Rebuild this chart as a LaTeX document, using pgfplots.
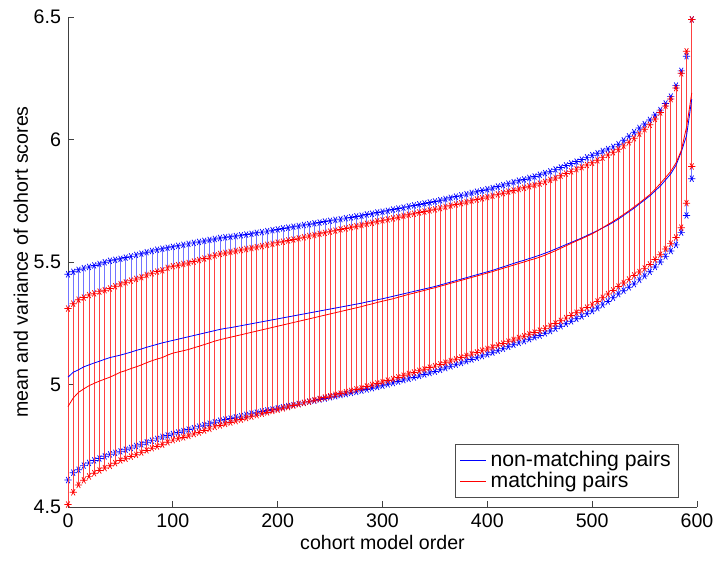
\documentclass[border=0pt]{standalone}
\usepackage{fontspec}
\setmainfont{Liberation Sans}
\usepackage{pgfplots}
\usepackage{pgfplotstable}
\pgfplotsset{compat=1.18}

% x  mean  err   (non-matching pairs)
\pgfplotstableread{
x m e
0 5.030 0.420
5 5.050 0.410
10 5.060 0.408
15 5.072 0.403
20 5.080 0.400
25 5.088 0.398
30 5.095 0.397
35 5.103 0.396
40 5.110 0.395
45 5.115 0.394
50 5.120 0.393
55 5.126 0.392
60 5.132 0.391
65 5.139 0.390
70 5.145 0.389
75 5.152 0.388
80 5.158 0.387
85 5.164 0.386
90 5.170 0.384
95 5.175 0.383
100 5.180 0.382
105 5.185 0.381
110 5.190 0.380
115 5.195 0.379
120 5.200 0.378
125 5.205 0.377
130 5.210 0.376
135 5.215 0.375
140 5.220 0.374
145 5.225 0.373
150 5.229 0.372
155 5.232 0.371
160 5.236 0.370
165 5.240 0.369
170 5.244 0.368
175 5.248 0.367
180 5.252 0.367
185 5.256 0.366
190 5.260 0.366
195 5.264 0.366
200 5.268 0.365
205 5.272 0.365
210 5.276 0.364
215 5.280 0.364
220 5.284 0.363
225 5.288 0.363
230 5.292 0.362
235 5.296 0.362
240 5.300 0.361
245 5.304 0.361
250 5.308 0.360
255 5.312 0.360
260 5.316 0.359
265 5.320 0.359
270 5.324 0.358
275 5.328 0.358
280 5.332 0.357
285 5.337 0.357
290 5.341 0.356
295 5.346 0.356
300 5.350 0.355
305 5.355 0.354
310 5.360 0.354
315 5.365 0.353
320 5.370 0.352
325 5.375 0.352
330 5.380 0.351
335 5.385 0.350
340 5.390 0.349
345 5.395 0.348
350 5.400 0.347
355 5.406 0.346
360 5.412 0.345
365 5.418 0.344
370 5.424 0.343
375 5.430 0.342
380 5.436 0.341
385 5.442 0.340
390 5.448 0.339
395 5.454 0.338
400 5.460 0.337
405 5.466 0.336
410 5.473 0.335
415 5.480 0.334
420 5.487 0.333
425 5.494 0.332
430 5.501 0.331
435 5.507 0.330
440 5.514 0.329
445 5.521 0.328
450 5.528 0.328
455 5.536 0.327
460 5.544 0.326
465 5.553 0.325
470 5.562 0.324
475 5.571 0.323
480 5.580 0.322
485 5.589 0.321
490 5.598 0.320
495 5.608 0.319
500 5.618 0.318
505 5.628 0.316
510 5.639 0.314
515 5.650 0.311
520 5.662 0.308
525 5.675 0.306
530 5.690 0.307
535 5.705 0.308
540 5.720 0.310
545 5.737 0.310
550 5.753 0.310
555 5.770 0.310
560 5.790 0.310
565 5.810 0.310
570 5.835 0.312
575 5.860 0.315
580 5.895 0.325
585 5.950 0.330
590 6.015 0.325
595 6.165 0.325
}\nonmatch

% x  mean  err   (matching pairs)
\pgfplotstableread{
x m e
0 4.910 0.400
5 4.945 0.385
10 4.968 0.378
15 4.982 0.373
20 4.995 0.370
25 5.005 0.367
30 5.014 0.365
35 5.022 0.363
40 5.030 0.362
45 5.040 0.361
50 5.050 0.360
55 5.057 0.360
60 5.065 0.359
65 5.072 0.359
70 5.080 0.358
75 5.089 0.358
80 5.097 0.357
85 5.104 0.357
90 5.110 0.356
95 5.120 0.356
100 5.128 0.355
105 5.133 0.354
110 5.138 0.354
115 5.143 0.353
120 5.150 0.352
125 5.156 0.352
130 5.163 0.351
135 5.170 0.351
140 5.177 0.350
145 5.183 0.350
150 5.188 0.349
155 5.193 0.348
160 5.198 0.347
165 5.203 0.346
170 5.208 0.345
175 5.213 0.344
180 5.218 0.343
185 5.223 0.342
190 5.228 0.342
195 5.233 0.341
200 5.238 0.341
205 5.243 0.340
210 5.248 0.340
215 5.253 0.339
220 5.258 0.339
225 5.263 0.338
230 5.268 0.338
235 5.273 0.337
240 5.278 0.337
245 5.283 0.336
250 5.288 0.336
255 5.293 0.335
260 5.298 0.335
265 5.303 0.334
270 5.308 0.334
275 5.313 0.333
280 5.318 0.333
285 5.324 0.332
290 5.329 0.331
295 5.335 0.331
300 5.340 0.330
305 5.345 0.329
310 5.350 0.328
315 5.356 0.327
320 5.362 0.326
325 5.368 0.325
330 5.373 0.324
335 5.379 0.323
340 5.384 0.322
345 5.390 0.321
350 5.395 0.320
355 5.401 0.319
360 5.407 0.318
365 5.413 0.317
370 5.419 0.316
375 5.425 0.315
380 5.431 0.314
385 5.437 0.313
390 5.443 0.312
395 5.449 0.311
400 5.455 0.310
405 5.461 0.309
410 5.468 0.308
415 5.474 0.307
420 5.481 0.306
425 5.487 0.305
430 5.494 0.304
435 5.500 0.303
440 5.507 0.302
445 5.513 0.301
450 5.520 0.300
455 5.528 0.299
460 5.537 0.298
465 5.546 0.297
470 5.556 0.296
475 5.566 0.295
480 5.576 0.294
485 5.586 0.293
490 5.595 0.292
495 5.605 0.291
500 5.615 0.290
505 5.627 0.288
510 5.640 0.286
515 5.653 0.284
520 5.666 0.282
525 5.680 0.280
530 5.694 0.280
535 5.709 0.280
540 5.725 0.280
545 5.741 0.282
550 5.758 0.284
555 5.775 0.285
560 5.797 0.287
565 5.820 0.290
570 5.845 0.292
575 5.870 0.295
580 5.905 0.305
585 5.955 0.315
590 6.050 0.310
595 6.190 0.300
}\match

\begin{document}
\begin{tikzpicture}
\begin{axis}[
  scale only axis,
  width=314.5pt, height=245pt,
  at={(0,0)}, anchor=south west,
  xmin=0, xmax=600, ymin=4.5, ymax=6.5,
  xtick={0,100,...,600},
  ytick={4.5,5,5.5,6,6.5},
  axis lines*=left,
  axis line style={black!75},
  tick align=inside,
  major tick length=3pt,
  tick style={black!75, line width=0.4pt},
  clip=false,
  font=\fontsize{9.8}{11.5}\selectfont,
  /pgf/number format/assume math mode=true,
  xlabel={cohort model order},
  ylabel={mean and variance of cohort scores},
  xlabel style={yshift=3pt},
  ylabel style={yshift=-4pt},
  legend style={at={(0.972,0.0184)}, anchor=south east,
    draw=black!70, line width=0.5pt, fill=white,
    font=\fontsize{10.6}{11}\selectfont,
    row sep=-2.8pt, inner xsep=2pt, inner ysep=1.5pt},
  legend cell align=left,
  legend image code/.code={\draw[#1] (0pt,0pt) -- (13pt,0pt);},
]
% error bars, non-matching pairs
\addplot[forget plot, draw=none, mark=none,
  error bars/.cd, y dir=both, y explicit,
  error bar style={draw=blue!55, line width=0.3pt},
  error mark=asterisk,
  error mark options={draw=blue, mark size=1.8pt, line width=0.35pt}]
  table[x=x, y=m, y error=e] {\nonmatch};
% error bars, matching pairs
\addplot[forget plot, draw=none, mark=none,
  error bars/.cd, y dir=both, y explicit,
  error bar style={draw=red!75, line width=0.3pt},
  error mark=asterisk,
  error mark options={draw=red, mark size=1.8pt, line width=0.35pt}]
  table[x=x, y=m, y error=e] {\match};
% mean lines
\addplot[blue, line width=0.4pt, mark=none] table[x=x, y=m] {\nonmatch};
\addlegendentry{non-matching pairs}
\addplot[red, line width=0.4pt, mark=none] table[x=x, y=m] {\match};
\addlegendentry{matching pairs}
\end{axis}
\pgfresetboundingbox
\path[use as bounding box] (-34pt,-27.5pt) rectangle (323.5pt,253.5pt);
\end{tikzpicture}
\end{document}
